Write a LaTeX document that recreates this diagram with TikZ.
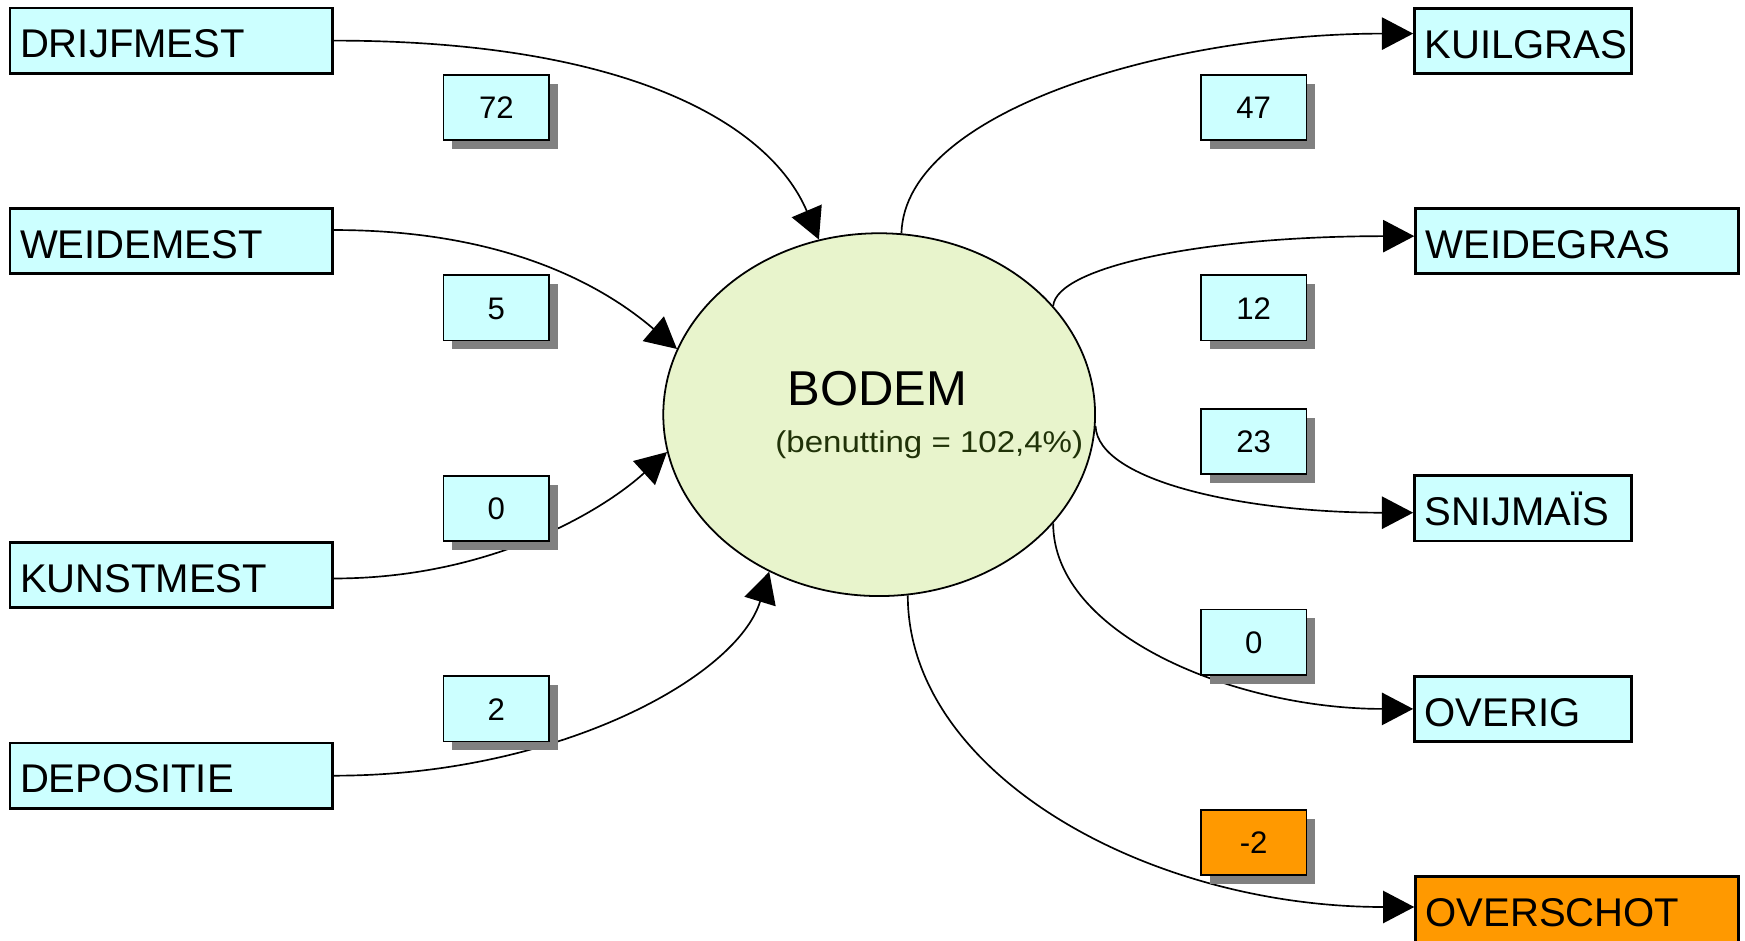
\documentclass[tikz,border=0pt]{standalone}
\usepackage{fontspec}
\setmainfont{Liberation Sans}
\usetikzlibrary{arrows.meta,shapes.geometric,shadows}

\definecolor{boxcyan}{RGB}{204,255,255}
\definecolor{boxorange}{RGB}{255,153,0}
\definecolor{soilgreen}{RGB}{232,244,204}
\definecolor{subtext}{RGB}{32,50,8}
\definecolor{shadowgray}{RGB}{128,128,128}

\begin{document}
\begin{tikzpicture}[x=1pt,y=-1pt,
  mainbox/.style={draw=black, line width=2.4pt, fill=boxcyan, rectangle,
    inner xsep=9pt, inner ysep=0pt, minimum height=58.6pt,
    text height=31pt, text depth=0pt, align=left,
    font=\fontsize{36pt}{36pt}\selectfont},
  widebox/.style={mainbox, text width=272pt},
  narrowbox/.style={mainbox, text width=177pt},
  numbox/.style={draw=black, line width=1.6pt, fill=boxcyan, rectangle,
    minimum width=95pt, minimum height=58.5pt, inner sep=0pt,
    text height=20pt, text depth=0pt,
    font=\fontsize{28pt}{28pt}\selectfont,
    drop shadow={shadow xshift=8pt, shadow yshift=-8pt, fill=shadowgray, opacity=1}},
  flow/.style={line width=1.5pt, -{Triangle[length=28pt,width=29pt]}}
]
\useasboundingbox (0,0) rectangle (1568,845);
\clip (0,0) rectangle (1568,845);

% sources on the left
\node[widebox] (drijfmest) at (154,36.5)  {DRIJFMEST};
\node[widebox] (weidemest) at (154,216.7) {WEIDEMEST};
\node[widebox] (kunstmest) at (154,516.8) {KUNSTMEST};
\node[widebox] (depositie) at (154,697)   {DEPOSITIE};

% sinks on the right
\node[narrowbox] (kuilgras)  at (1368.5,36.7)  {KUILGRAS};
\node[widebox]   (weidegras) at (1417,216.7)   {WEIDEGRAS};
\node[narrowbox] (snijmais)  at (1368.5,456.7) {SNIJMAÏS};
\node[narrowbox] (overig)    at (1368.5,637)   {OVERIG};
\node[widebox, fill=boxorange] (overschot) at (1417,817) {OVERSCHOT};

% the soil in the middle
\node[ellipse, draw=black, line width=1.6pt, fill=soilgreen, inner sep=0pt,
      minimum width=388pt, minimum height=326pt] (bodem) at (790,372.6) {};
\node[anchor=base, font=\fontsize{44pt}{44pt}\selectfont] (bodemtitle) at (788.5,364) {BODEM};
\node[anchor=base, text=subtext, font=\fontsize{27pt}{27pt}\selectfont] (benutting) at (835,407)
  {\scalebox{1.1}[1]{(benutting = 102,4\%)}};

% inflows
\draw[flow] (drijfmest.east) .. controls +(260,0) and +(-45,-106) .. (bodem.109);
\draw[flow] ([yshift=10pt]weidemest.east) .. controls +(150,0) and +(-69.5,-59.5) .. (bodem.162);
\draw[flow] ([yshift=-3pt]kunstmest.east) .. controls +(140,0) and +(-58,53) .. (bodem.190);
\draw[flow] (depositie.east) .. controls +(200,0) and +(-29,95) .. (bodem.235);

% outflows
\draw[flow] (bodem.83) .. controls +(3,-110) and +(-220,0) .. ([yshift=6.5pt]kuilgras.west);
\draw[flow] (bodem.32) .. controls +(3,-35) and +(-190,0) .. ([yshift=4.5pt]weidegras.west);
\draw[flow] (bodem.357) .. controls +(2,50) and +(-150,0) .. ([yshift=-4pt]snijmais.west);
\draw[flow] (bodem.328) .. controls +(0,100) and +(-160,0) .. (overig.west);
\draw[flow] (bodem.279) .. controls +(0,160) and +(-240,0) .. ([yshift=2pt]overschot.west);

% amounts on the flows
\node[numbox] (n72) at (446,96.6)  {72};
\node[numbox] (n5)  at (446,276.7) {5};
\node[numbox] (n0a) at (446,457)   {0};
\node[numbox] (n2)  at (446,637)   {2};
\node[numbox] (n47) at (1126.5,96.6)  {47};
\node[numbox] (n12) at (1126.5,276.7) {12};
\node[numbox] (n23) at (1126.5,397)   {23};
\node[numbox] (n0b) at (1126.5,577)   {0};
\node[numbox, fill=boxorange] (nm2) at (1126.5,757) {-2};
\end{tikzpicture}
\end{document}
